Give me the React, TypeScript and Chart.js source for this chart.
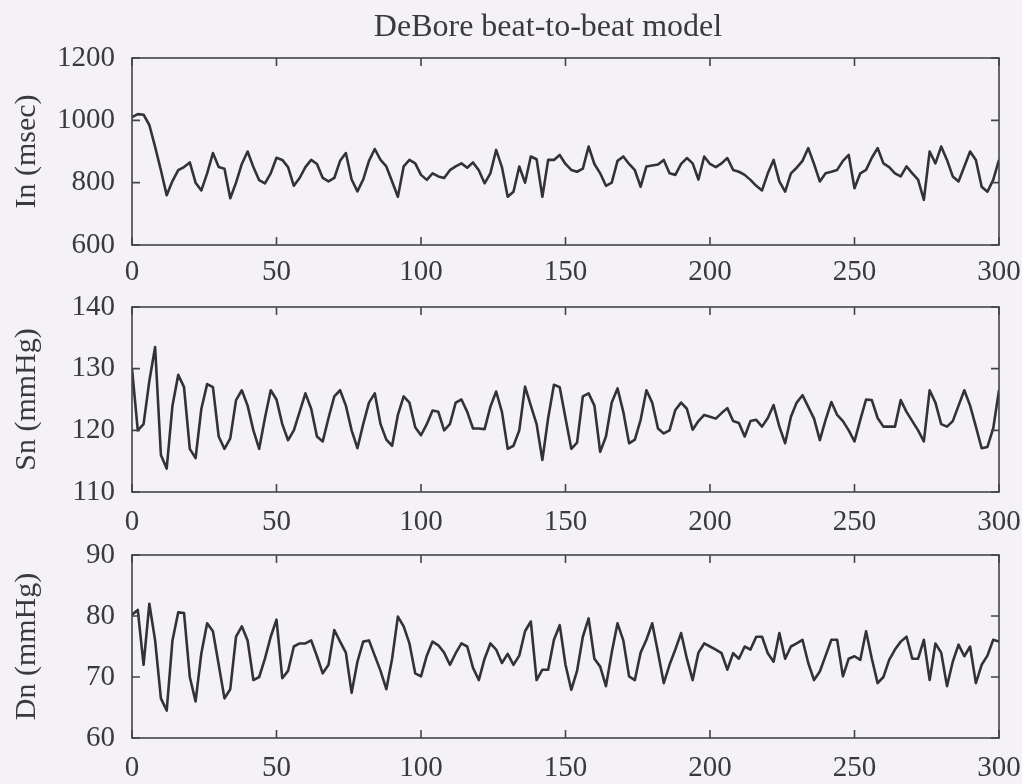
import React, { useEffect, useRef } from "react";
import { Chart, registerables } from "chart.js";

Chart.register(...registerables);

// beat number (x axis), sampled every second beat
const beats: number[] = Array.from({ length: 151 }, (_, i) => i * 2);

// In (msec)
const inValues = [
  1010, 1020, 1018, 985, 915, 840, 760, 805, 840, 850,
  865, 800, 775, 830, 895, 850, 845, 750, 800, 860,
  900, 850, 808, 798, 830, 880, 873, 850, 790, 815,
  850, 873, 860, 815, 804, 815, 870, 895, 810, 772,
  810, 870, 908, 873, 852, 804, 755, 852, 873, 862,
  825, 809, 830, 820, 815, 840, 852, 862, 848, 865,
  840, 798, 830, 905, 850, 755, 771, 852, 800, 884,
  875, 755, 873, 873, 889, 860, 841, 835, 845, 916,
  860, 830, 790, 800, 870, 884, 860, 840, 787, 852,
  855, 858, 873, 830, 825, 860, 879, 862, 810, 884,
  860, 850, 862, 879, 841, 835, 825, 809, 790, 775,
  830, 873, 804, 771, 830, 848, 870, 911, 860, 804,
  830, 835, 841, 870, 889, 782, 830, 841, 880, 911,
  862, 850, 830, 820, 852, 830, 810, 745, 900, 862,
  916, 873, 820, 804, 852, 900, 873, 787, 771, 809,
  873,
];

// Sn (mmHg)
const snValues = [
  130, 120, 121, 128, 133.5, 116, 113.8, 124, 129, 127,
  117, 115.5, 123.5, 127.5, 127, 119, 117, 118.7, 124.9, 126.5,
  124, 120, 117, 122, 126.5, 125, 121, 118.4, 120, 123,
  126, 123.5, 119, 118.2, 122, 125.5, 126.5, 124, 120, 117.1,
  121, 124.5, 126, 121, 118.5, 117.5, 122.5, 125.5, 124.5, 120.5,
  119.2, 121, 123.2, 123, 120, 121, 124.5, 125, 123, 120.3,
  120.3, 120.2, 123.8, 126.3, 123, 117, 117.5, 120, 127.1, 124,
  121, 115.2, 122, 127.4, 127, 122, 117, 118, 125.5, 126,
  124, 116.5, 119, 124.5, 126.8, 123, 117.9, 118.5, 121.7, 126.5,
  124.5, 120.3, 119.5, 120, 123.3, 124.5, 123.5, 120.1, 121.5, 122.5,
  122.2, 121.9, 122.8, 123.6, 121.5, 121.2, 119, 121.5, 121.7, 120.6,
  122, 124.1, 120.6, 117.9, 122.2, 124.5, 125.7, 123.8, 121.9, 118.4,
  121.7, 124.6, 122.5, 121.5, 120, 118.2, 121.7, 125, 124.9, 122,
  120.6, 120.6, 120.6, 124.9, 123, 121.5, 120, 118.2, 126.5, 124.5,
  121, 120.6, 121.5, 124, 126.5, 124, 120.6, 117.1, 117.3, 120.3,
  126.5,
];

// Dn (mmHg)
const dnValues = [
  80.2, 81, 72, 82, 76, 66.5, 64.5, 76, 80.6, 80.5,
  70, 66, 73.9, 78.8, 77.5, 72, 66.5, 68, 76.6, 78.3,
  76, 69.5, 70, 73, 76.6, 79.4, 69.8, 71, 75, 75.5,
  75.5, 76, 73.4, 70.6, 72, 77.7, 75.8, 74, 67.4, 72.5,
  75.8, 76, 73.5, 71, 68, 73, 79.9, 78.3, 75.5, 70.6,
  70.1, 73.5, 75.8, 75.2, 74, 72, 73.9, 75.5, 75, 71.5,
  69.5, 73, 75.5, 74.5, 72.3, 73.8, 72, 73.5, 77.5, 79.1,
  69.5, 71.2, 71.2, 76.1, 78.5, 72, 67.9, 71, 76.6, 79.6,
  73, 71.7, 68.5, 74, 78.8, 76, 70.1, 69.5, 74, 76.1,
  78.8, 74, 69, 72, 74.5, 77.2, 73, 69.5, 74, 75.5,
  75, 74.5, 73.9, 71.2, 73.9, 73, 75, 74.5, 76.6, 76.6,
  73.9, 72.5, 77.2, 73, 75, 75.5, 76.1, 72.3, 69.5, 70.9,
  73.5, 76.1, 76.1, 70.1, 73, 73.4, 72.8, 77.5, 73, 69,
  70, 72.8, 74.5, 75.8, 76.6, 73, 73, 76.1, 69.5, 75.5,
  74, 68.5, 72.5, 75.3, 73.4, 75, 69, 72, 73.5, 76.1,
  75.8,
];

const xTicks = [0, 50, 100, 150, 200, 250, 300];
const inTicks = [600, 800, 1000, 1200];
const snTicks = [110, 120, 130, 140];
const dnTicks = [60, 70, 80, 90];

const titleText = "DeBore beat-to-beat model";
const yTitles = ["In (msec)", "Sn (mmHg)", "Dn (mmHg)"];

const W = 1022;
const H = 784;
const FONT = "'Liberation Serif', 'Times New Roman', serif";
const INK = "#3a3a3a";
const LINE = "#333333";
const BG = "#f4f2f6";

// panel geometry: plot area top/bottom in page pixels
const panels = [
  { top: 58, bottom: 245, values: inValues, ticks: inTicks, title: yTitles[0], withTitle: true, pad: 10 },
  { top: 307, bottom: 492, values: snValues, ticks: snTicks, title: yTitles[1], withTitle: false, pad: 13 },
  { top: 555, bottom: 738, values: dnValues, ticks: dnTicks, title: yTitles[2], withTitle: false, pad: 13 },
];

const boxPlugin = {
  id: "matlabBox",
  afterDraw(chart: any) {
    const { ctx, chartArea, scales } = chart;
    const { left, right, top, bottom } = chartArea;
    const xs = scales.x;
    const ys = scales.y;
    ctx.save();
    ctx.strokeStyle = "#444444";
    ctx.lineWidth = 1.6;
    ctx.strokeRect(left, top, right - left, bottom - top);
    const tl = 8;
    ctx.beginPath();
    xs.ticks.forEach((t: any) => {
      const px = xs.getPixelForValue(t.value);
      ctx.moveTo(px, bottom);
      ctx.lineTo(px, bottom - tl);
      ctx.moveTo(px, top);
      ctx.lineTo(px, top + tl);
    });
    ys.ticks.forEach((t: any) => {
      const py = ys.getPixelForValue(t.value);
      ctx.moveTo(left, py);
      ctx.lineTo(left + tl, py);
      ctx.moveTo(right, py);
      ctx.lineTo(right - tl, py);
    });
    ctx.stroke();
    ctx.restore();
  },
};

const titlePlugin = {
  id: "figTitle",
  afterDraw(chart: any, _args: any, opts: any) {
    if (!opts || !opts.text) return;
    const { ctx } = chart;
    ctx.save();
    ctx.fillStyle = INK;
    ctx.font = `32px ${FONT}`;
    ctx.textAlign = "center";
    ctx.textBaseline = "alphabetic";
    ctx.fillText(opts.text, 548, 36);
    ctx.restore();
  },
};

function Panel({ idx }: { idx: number }) {
  const ref = useRef<HTMLCanvasElement | null>(null);
  useEffect(() => {
    const p = panels[idx];
    const canvas = ref.current;
    if (!canvas) return;
    const chart = new Chart(canvas, {
      type: "line",
      data: {
        datasets: [
          {
            data: beats.map((b, i) => ({ x: b, y: p.values[i] })),
            borderColor: LINE,
            borderWidth: 2.6,
            borderJoinStyle: "round",
            pointRadius: 0,
            tension: 0,
            fill: false,
          },
        ],
      },
      options: {
        responsive: false,
        animation: false,
        devicePixelRatio: 1,
        layout: { padding: { top: p.top, right: W - 999, left: 0, bottom: 0 } },
        plugins: {
          legend: { display: false },
          tooltip: { enabled: false },
          figTitle: { text: p.withTitle ? titleText : "" },
        } as any,
        scales: {
          x: {
            type: "linear",
            min: 0,
            max: 300,
            grid: { display: false, drawTicks: false },
            border: { display: false },
            ticks: {
              stepSize: 50,
              padding: p.pad,
              autoSkip: false,
              maxRotation: 0,
              color: INK,
              font: { family: FONT, size: 29 },
              callback: (v: any) => String(v),
            },
            afterBuildTicks: (s: any) => {
              s.ticks = xTicks.map((v) => ({ value: v }));
            },
            afterFit: (s: any) => {
              s.height = H - p.bottom;
              s.paddingLeft = 0;
              s.paddingRight = 0;
            },
          },
          y: {
            type: "linear",
            min: p.ticks[0],
            max: p.ticks[p.ticks.length - 1],
            grid: { display: false, drawTicks: false },
            border: { display: false },
            ticks: {
              padding: 17,
              color: INK,
              font: { family: FONT, size: 29 },
              callback: (v: any) => String(v),
            },
            afterBuildTicks: (s: any) => {
              s.ticks = p.ticks.map((v) => ({ value: v }));
            },
            afterFit: (s: any) => {
              s.width = 132;
              s.paddingTop = 0;
              s.paddingBottom = 0;
            },
            title: {
              display: true,
              text: p.title,
              color: INK,
              font: { family: FONT, size: 30 },
              padding: { top: 9, bottom: 0 },
            },
          },
        },
      } as any,
      plugins: [boxPlugin, titlePlugin],
    });
    return () => chart.destroy();
  }, [idx]);
  return (
    <canvas
      ref={ref}
      width={W}
      height={H}
      style={{ position: "absolute", left: 0, top: 0, width: W, height: H }}
    />
  );
}

export default function App() {
  return (
    <div
      style={{
        position: "fixed",
        left: 0,
        top: 0,
        width: W,
        height: H,
        background: BG,
        overflow: "hidden",
      }}
    >
      <Panel idx={0} />
      <Panel idx={1} />
      <Panel idx={2} />
    </div>
  );
}
